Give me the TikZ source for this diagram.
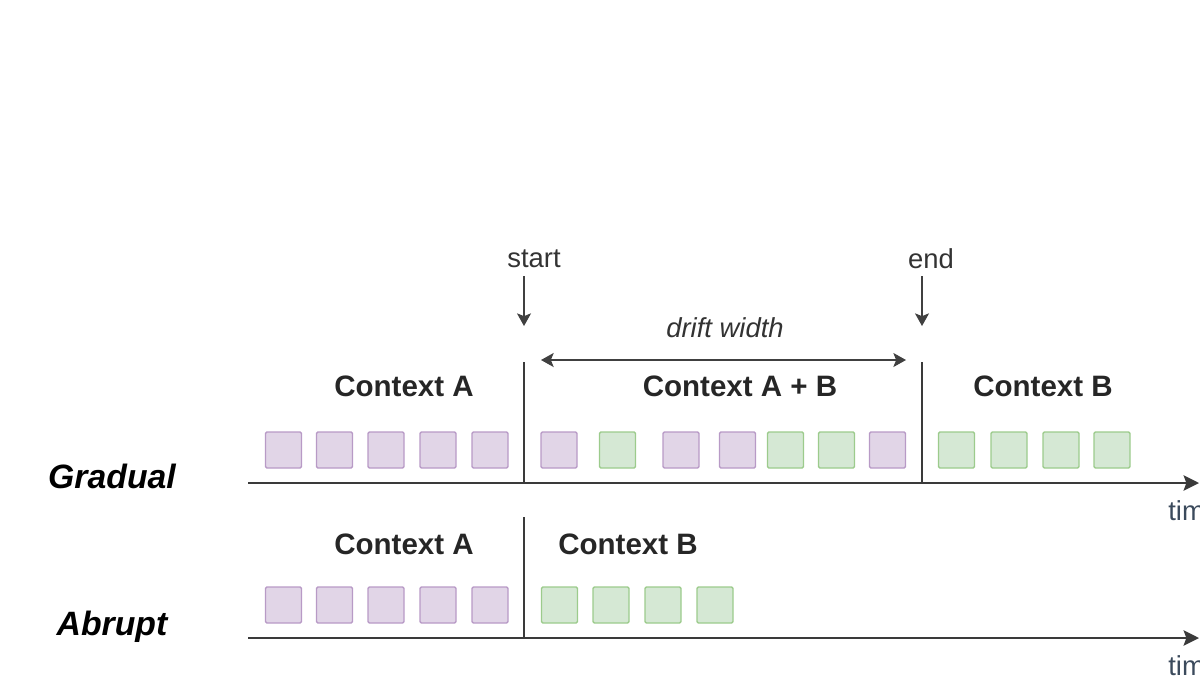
\documentclass[tikz,border=0pt]{standalone}
\usepackage{fontspec}
\setmainfont{Liberation Sans}
\usetikzlibrary{arrows.meta}
\definecolor{pfill}{HTML}{E1D5E7}
\definecolor{pdraw}{HTML}{B89AC6}
\definecolor{gfill}{HTML}{D5E8D4}
\definecolor{gdraw}{HTML}{9CCB8C}
\definecolor{axis}{HTML}{3A3A3A}
\definecolor{timec}{HTML}{3B4A5C}
\tikzset{
  sq/.style={rectangle, minimum width=0.9cm, minimum height=0.9cm, inner sep=0pt, line width=1pt, rounded corners=1pt},
  pa/.style={sq, fill=pfill, draw=pdraw},
  gb/.style={sq, fill=gfill, draw=gdraw},
  ctx/.style={font=\fontsize{21}{25}\selectfont\bfseries, text=black!85, inner sep=0pt},
  kind/.style={font=\fontsize{24}{28}\selectfont\bfseries\itshape, inner sep=0pt},
  lbl/.style={font=\fontsize{19.5}{23}\selectfont, text=black!80, inner sep=0pt},
  tip/.tip={Stealth[length=9pt,width=10pt,inset=2pt]},
  axisline/.style={draw=axis, line width=1.4pt, -{Stealth[length=11pt,width=11pt,inset=2pt]}},
  divider/.style={draw=axis, line width=1.4pt},
  marker/.style={draw=black!75, line width=1pt, -tip},
}
\begin{document}
\begin{tikzpicture}[x=0.025cm, y=-0.025cm]
\useasboundingbox (0,0) rectangle (1200,680);
% timelines
\coordinate (g0) at (248,483);
\coordinate (g1) at (1199,483);
\coordinate (a0) at (248,638);
\coordinate (a1) at (1199,638);
\draw[axisline] (g0) -- (g1);
\draw[axisline] (a0) -- (a1);
\node[lbl, text=timec, anchor=west] (gtime) at (1168,511) {time};
\node[lbl, text=timec, anchor=west] (atime) at (1168,666) {time};
% dividers
\coordinate (gs0) at (524,362); \coordinate (gs1) at (524,483);
\coordinate (ge0) at (922,362); \coordinate (ge1) at (922,483);
\coordinate (as0) at (524,517); \coordinate (as1) at (524,638);
\draw[divider] (gs0) -- (gs1);
\draw[divider] (ge0) -- (ge1);
\draw[divider] (as0) -- (as1);
% start / end markers
\node[lbl] (start) at (534,259) {start};
\node[lbl] (end) at (931,259) {end};
\coordinate (st) at (524,326);
\coordinate (et) at (922,326);
\draw[marker] (524,276) -- (st);
\draw[marker] (922,276) -- (et);
% drift width
\node[lbl, font=\fontsize{19.5}{23}\selectfont\itshape] (dw) at (725,328) {drift width};
\coordinate (dw0) at (541,360);
\coordinate (dw1) at (906,360);
\draw[marker, tip-tip] (dw0) -- (dw1);
% labels
\node[kind] (grad) at (112,476) {Gradual};
\node[kind] (abr) at (112,627) {Abrupt};
\node[ctx] (gca) at (404,386) {Context A};
\node[ctx] (gcab) at (740,386) {Context A + B};
\node[ctx] (gcb) at (1043,386) {Context B};
\node[ctx] (aca) at (404,544) {Context A};
\node[ctx] (acb) at (628,544) {Context B};
% gradual squares
\node[pa] (g1s) at (283.5,450) {};
\node[pa] (g2s) at (334.5,450) {};
\node[pa] (g3s) at (386,450) {};
\node[pa] (g4s) at (438,450) {};
\node[pa] (g5s) at (490,450) {};
\node[pa] (g6s) at (559,450) {};
\node[gb] (g7s) at (617.5,450) {};
\node[pa] (g8s) at (681,450) {};
\node[pa] (g9s) at (737.5,450) {};
\node[gb] (g10s) at (785.5,450) {};
\node[gb] (g11s) at (836.5,450) {};
\node[pa] (g12s) at (887.5,450) {};
\node[gb] (g13s) at (956.5,450) {};
\node[gb] (g14s) at (1009,450) {};
\node[gb] (g15s) at (1061,450) {};
\node[gb] (g16s) at (1112,450) {};
% abrupt squares
\node[pa] (a1s) at (283.5,605) {};
\node[pa] (a2s) at (334.5,605) {};
\node[pa] (a3s) at (386,605) {};
\node[pa] (a4s) at (438,605) {};
\node[pa] (a5s) at (490,605) {};
\node[gb] (a6s) at (559.5,605) {};
\node[gb] (a7s) at (611,605) {};
\node[gb] (a8s) at (663,605) {};
\node[gb] (a9s) at (715,605) {};
\end{tikzpicture}
\end{document}
